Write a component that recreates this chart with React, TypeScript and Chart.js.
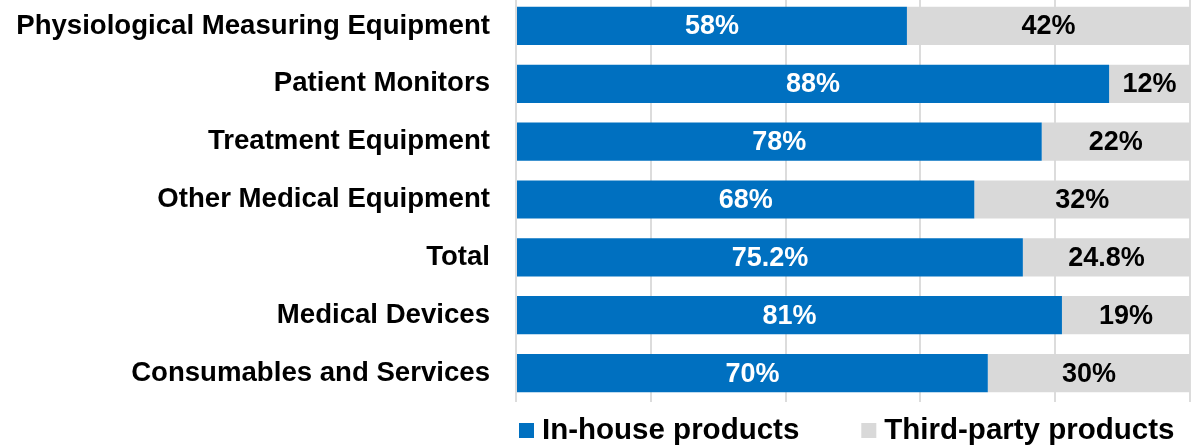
import React, { useEffect, useRef } from "react";
import { Chart, registerables } from "chart.js";

Chart.register(...registerables);

const categories: string[] = [
  "Physiological Measuring Equipment",
  "Patient Monitors",
  "Treatment Equipment",
  "Other Medical Equipment",
  "Total",
  "Medical Devices",
  "Consumables and Services",
];
const inHouse: number[] = [58, 88, 78, 68, 75.2, 81, 70];
const thirdParty: number[] = [42, 12, 22, 32, 24.8, 19, 30];
const seriesNames: string[] = ["In-house products", "Third-party products"];
const xTicks: number[] = [0, 20, 40, 60, 80, 100];

const BLUE = "#0070C0";
const GREY = "#D9D9D9";
const FONT = "'Liberation Sans', Arial, sans-serif";

const dataLabelPlugin = {
  id: "dataLabels",
  afterDatasetsDraw(chart: any) {
    const ctx = chart.ctx;
    ctx.save();
    ctx.font = `bold 27px ${FONT}`;
    ctx.textAlign = "center";
    ctx.textBaseline = "middle";
    chart.data.datasets.forEach((ds: any, di: number) => {
      const meta = chart.getDatasetMeta(di);
      meta.data.forEach((bar: any, i: number) => {
        const v = ds.data[i];
        const cx = (bar.x + bar.base) / 2;
        ctx.fillStyle = di === 0 ? "#FFFFFF" : "#000000";
        ctx.fillText(`${v}%`, cx, bar.y + 1);
      });
    });
    ctx.restore();
  },
};

const legendPlugin = {
  id: "customLegend",
  afterDraw(chart: any) {
    const ctx = chart.ctx;
    const area = chart.chartArea;
    ctx.save();
    ctx.font = `bold 29.5px ${FONT}`;
    ctx.textBaseline = "middle";
    ctx.textAlign = "left";
    let x = area.left + 3;
    const cy = area.bottom + 28;
    chart.data.datasets.forEach((ds: any) => {
      ctx.fillStyle = ds.backgroundColor;
      ctx.fillRect(x, cy - 7, 15, 15);
      x += 23;
      ctx.fillStyle = "#000000";
      ctx.fillText(ds.label, x, cy + 1);
      x += ctx.measureText(ds.label).width + 62;
    });
    ctx.restore();
  },
};

export default function App() {
  const ref = useRef<HTMLCanvasElement | null>(null);
  useEffect(() => {
    document.body.style.margin = "0";
    const canvas = ref.current;
    if (!canvas) return;
    const chart = new Chart(canvas, {
      type: "bar",
      data: {
        labels: categories,
        datasets: [
          {
            label: seriesNames[0],
            data: inHouse,
            backgroundColor: BLUE,
            barPercentage: 0.66,
            categoryPercentage: 1,
          },
          {
            label: seriesNames[1],
            data: thirdParty,
            backgroundColor: GREY,
            barPercentage: 0.66,
            categoryPercentage: 1,
          },
        ],
      },
      options: {
        indexAxis: "y",
        responsive: false,
        animation: false,
        devicePixelRatio: 1,
        layout: { padding: { left: 0, right: 1, top: 0, bottom: 46 } },
        plugins: {
          legend: { display: false },
          tooltip: { enabled: false },
        },
        scales: {
          x: {
            stacked: true,
            min: 0,
            max: 100,
            afterBuildTicks: (axis: any) => {
              axis.ticks = xTicks.map((v) => ({ value: v }));
            },
            ticks: { display: false },
            border: { display: false },
            grid: { color: "#DCDCDC", lineWidth: 2, drawTicks: false },
          },
          y: {
            stacked: true,
            afterFit: (scale: any) => {
              scale.width = 516;
              scale.paddingTop = 0;
              scale.paddingBottom = 0;
            },
            ticks: {
              color: "#000000",
              font: { family: FONT, size: 27.6, weight: "bold" },
              padding: 26,
              autoSkip: false,
            },
            border: { display: false },
            grid: { display: false, drawTicks: false },
          },
        },
      },
      plugins: [dataLabelPlugin, legendPlugin],
    });
    return () => chart.destroy();
  }, []);
  return (
    <div style={{ position: "absolute", left: 0, top: -3, width: 1191, height: 451 }}>
      <canvas ref={ref} width={1191} height={451} />
    </div>
  );
}
